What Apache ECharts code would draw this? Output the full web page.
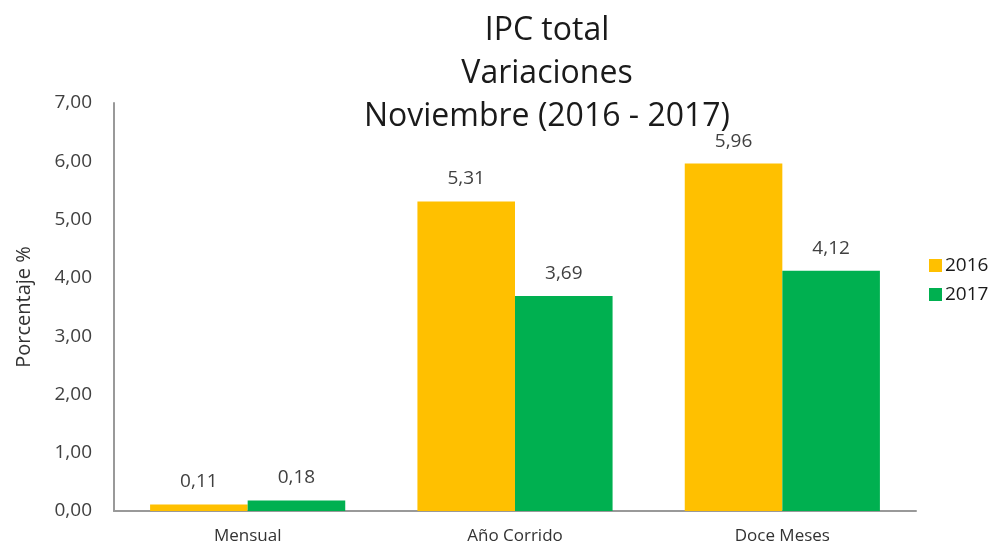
<!DOCTYPE html>
<html>
<head>
<meta charset="utf-8">
<script src="https://cdn.jsdelivr.net/npm/echarts@6/dist/echarts.min.js"></script>
<style>
  html, body { margin: 0; padding: 0; background: #fff; }
  #chart { width: 992px; height: 546px; }
</style>
</head>
<body>
<div id="chart"></div>
<script>
// datos del grafico
const categories = ['Mensual', 'Año Corrido', 'Doce Meses'];
const values2016 = [0.11, 5.31, 5.96];
const values2017 = [0.18, 3.69, 4.12];
const yTicks = { min: 0, max: 7, interval: 1 };

const fmt = (v) => v.toFixed(2).replace('.', ',');
const font = "'Open Sans', sans-serif";

const myChart = echarts.init(document.getElementById('chart'));
myChart.setOption({
    animation: false,
    textStyle: { fontFamily: font },
    title: {
        text: 'IPC total\nVariaciones\nNoviembre (2016 - 2017)',
        left: 542,
        top: 4,
        textAlign: 'center',
        textStyle: {
            fontFamily: font,
            fontSize: 32,
            fontWeight: 'normal',
            color: '#1a1a1a',
            lineHeight: 43
        }
    },
    legend: {
        orient: 'vertical',
        left: 924,
        top: 251,
        itemWidth: 13,
        itemHeight: 13,
        itemGap: 10,
        icon: 'rect',
        textStyle: { fontFamily: font, fontSize: 19, color: '#1a1a1a', padding: [0, 0, 0, -2] },
        data: ['2016', '2017']
    },
    grid: { left: 114, right: 76, top: 103, bottom: 35 },
    xAxis: {
        type: 'category',
        data: categories,
        axisLine: { lineStyle: { color: '#999', width: 2 } },
        axisTick: { show: false },
        axisLabel: { fontFamily: font, fontSize: 17, color: '#333', margin: 17 }
    },
    yAxis: {
        type: 'value',
        min: yTicks.min,
        max: yTicks.max,
        interval: yTicks.interval,
        name: 'Porcentaje %',
        nameLocation: 'middle',
        nameGap: 80,
        nameTextStyle: { fontFamily: font, fontSize: 20, color: '#333' },
        axisLine: { show: true, lineStyle: { color: '#999', width: 2 } },
        axisTick: { show: false },
        splitLine: { show: false },
        axisLabel: {
            fontFamily: font, fontSize: 19, color: '#404040', margin: 22,
            formatter: (v) => fmt(v)
        }
    },
    series: [
        {
            name: '2016',
            type: 'bar',
            data: values2016,
            barGap: '0%',
            barCategoryGap: '27%',
            itemStyle: { color: '#FFC000' },
            label: {
                show: true, position: 'top', distance: 13,
                fontFamily: font, fontSize: 19, color: '#404040',
                formatter: (p) => fmt(p.value)
            }
        },
        {
            name: '2017',
            type: 'bar',
            data: values2017,
            itemStyle: { color: '#00B050' },
            label: {
                show: true, position: 'top', distance: 13,
                fontFamily: font, fontSize: 19, color: '#404040',
                formatter: (p) => fmt(p.value)
            }
        }
    ]
});
</script>
</body>
</html>
